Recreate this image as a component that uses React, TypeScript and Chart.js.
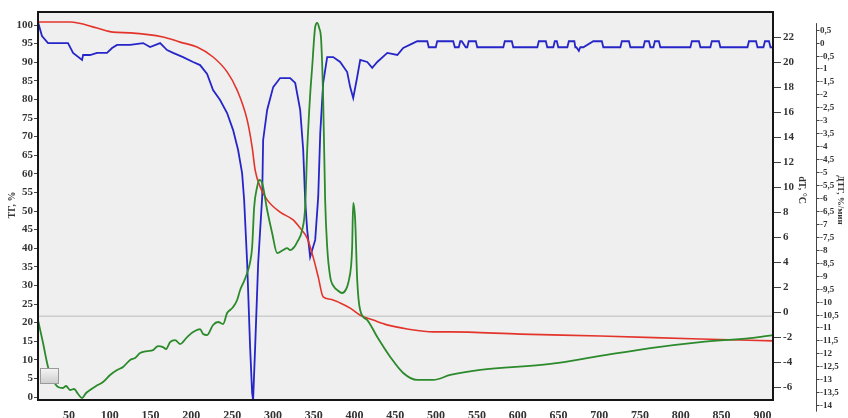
import React, { useEffect, useRef } from "react";
import { Chart, registerables } from "chart.js";
Chart.register(...registerables);

const xTicks = [50, 100, 150, 200, 250, 300, 350, 400, 450, 500, 550, 600, 650, 700, 750, 800, 850, 900];
const tgTicks = [0, 5, 10, 15, 20, 25, 30, 35, 40, 45, 50, 55, 60, 65, 70, 75, 80, 85, 90, 95, 100];
const dtTicks = [-6, -4, -2, 0, 2, 4, 6, 8, 10, 12, 14, 16, 18, 20, 22];
const dtgTicks = [0.5, 0, -0.5, -1, -1.5, -2, -2.5, -3, -3.5, -4, -4.5, -5, -5.5, -6, -6.5, -7, -7.5, -8, -8.5, -9, -9.5, -10, -10.5, -11, -11.5, -12, -12.5, -13, -13.5, -14];

const tgTitle = "ТГ, %";
const dtTitle = "dT, °C";
const dtgTitle = "ДТГ, %/мин";
const refLineTG = 21.7;

// TG (red)
const tgTemp = [12, 51.3, 84.4, 104, 124.9, 165.3, 186.2, 207, 226.6, 243.8, 256.1, 268.4, 274.5, 278.2, 284.3, 292.9, 308.8, 324.8, 333.4, 342, 349.3, 355.5, 361.6, 370.2, 382.4, 394.7, 407, 423, 440, 464.6, 496.5, 517.4, 603.2, 701.3, 824, 913];
const tgValues = [100.8, 100.8, 99.2, 98.1, 97.9, 96.8, 95.4, 94.1, 91.4, 87.4, 82.5, 74.5, 67.2, 61.0, 56.5, 53.0, 49.7, 47.6, 45.4, 42.7, 37.6, 32.3, 26.9, 26.3, 25.3, 23.9, 22.0, 20.7, 19.4, 18.3, 17.5, 17.5, 16.9, 16.4, 15.6, 15.1];

// dT (green)
const dtTemp = [12, 18.2, 24.3, 30.4, 36.6, 42.7, 46.4, 51.3, 56.2, 61.1, 66, 70.9, 75.8, 83.2, 91.7, 100.4, 108.9, 116.3, 124.9, 131, 137.1, 145.7, 153, 159.2, 165.3, 169, 173.9, 180.1, 186.2, 194.8, 202.1, 210.7, 214.4, 219.3, 226.6, 232.8, 238.9, 243.8, 247.5, 251.2, 256.1, 259.8, 264.7, 268.4, 272.1, 274.5, 277, 280.6, 283.1, 286.8, 292.9, 299, 305.2, 312.5, 317.4, 321.1, 326, 329.7, 335.8, 339.5, 342, 345.6, 348.1, 351.8, 354.2, 356.7, 359.1, 361.6, 364, 366.5, 370.2, 375.1, 378.8, 384.9, 389.8, 392.3, 395.9, 397.1, 398.4, 400.8, 403.3, 406.9, 415.6, 427.9, 443.8, 459.7, 476.9, 496.5, 517.4, 554.2, 640, 701.3, 762.7, 824, 885.3, 913];
const dtValues = [-0.61, -2.45, -4.36, -5.4, -5.96, -6.04, -5.88, -6.2, -6.12, -6.52, -6.84, -6.44, -6.2, -5.88, -5.56, -5.0, -4.6, -4.36, -3.8, -3.64, -3.25, -3.09, -3.01, -2.69, -2.77, -2.93, -2.37, -2.21, -2.53, -1.97, -1.57, -1.33, -1.73, -1.81, -1.01, -0.77, -0.93, -0.05, 0.19, 0.43, 0.99, 1.79, 2.51, 3.15, 4.03, 5.22, 8.42, 10.02, 10.58, 10.34, 8.18, 6.34, 4.74, 4.98, 5.14, 4.98, 5.22, 5.62, 6.58, 8.42, 12.97, 17.37, 19.61, 22.8, 23.12, 22.72, 21.76, 16.97, 8.98, 5.22, 2.83, 2.03, 1.79, 1.55, 1.87, 2.35, 3.79, 5.22, 8.74, 7.38, 2.59, 0.19, -0.61, -1.97, -3.56, -4.84, -5.4, -5.4, -5.0, -4.6, -4.12, -3.48, -2.85, -2.37, -2.05, -1.81];

// DTG (blue)
const dtgTemp = [12, 16.9, 24.3, 48.8, 55, 66, 67.3, 75.8, 84.4, 96.6, 102.8, 108.9, 124.9, 140.8, 149.4, 161.7, 170.2, 177.6, 189.8, 202.1, 210.7, 219.3, 226.6, 235.2, 243.8, 251.2, 257.3, 262.2, 264.7, 268.4, 272, 274.5, 275.7, 278.2, 281.9, 286.8, 288, 292.9, 300.3, 308.8, 321.1, 327.3, 333.4, 337.1, 339.5, 342, 345.6, 351.8, 355.5, 358, 361.6, 366.5, 373.9, 382.4, 391, 394.7, 398.4, 403.3, 407, 415.6, 421.7, 427.9, 440.2, 452.5, 459.7, 472,
  476.9, 489.2, 491, 499.6, 501.4, 521, 523, 527.8, 529.6, 531.4, 536.4, 538.2, 540, 548.7, 550.5, 582.4, 584.2, 592.8, 594.6, 624.1, 625.9, 634.5, 636.3, 643.7, 645.5, 648, 649.8, 660.9, 662.7, 669.5, 670.7, 671.9, 675, 676.8, 680.5, 692.7, 694.5, 703.2, 705, 725.9, 727.7, 736.4, 738.2, 754.1, 755.9, 760.9, 762.7, 766.4, 768.2, 773.1, 774.9, 811.7, 813.5, 822.2, 824, 836.2, 838, 846.7, 848.5, 881.7, 883.5, 892.2, 894, 901.3, 903.1, 908.1, 909.9, 913];
const dtgValues = [0.79, 0.25, -0.02, -0.02, -0.4, -0.67, -0.48, -0.48, -0.4, -0.4, -0.21, -0.09, -0.09, -0.02, -0.17, -0.02, -0.29, -0.4, -0.56, -0.75, -0.87, -1.21, -1.83, -2.22, -2.72, -3.38, -4.15, -5.04, -6.08, -8.51, -11.75, -13.53, -13.8, -11.75, -8.51, -5.96, -3.76, -2.6, -1.72, -1.37, -1.37, -1.56, -2.6, -4.15, -6.08, -7.24, -8.28, -7.62, -5.96, -3.49, -1.56, -0.56, -0.56, -0.75, -1.14, -1.72, -2.14, -1.33, -0.67, -0.75, -0.98, -0.75, -0.4, -0.48, -0.21, -0.02,
  0.05, 0.05, -0.18, -0.18, 0.05, 0.05, -0.18, -0.18, 0.05, 0.05, -0.18, -0.18, 0.05, 0.05, -0.18, -0.18, 0.05, 0.05, -0.18, -0.18, 0.05, 0.05, -0.18, -0.18, 0.05, 0.05, -0.18, -0.18, 0.05, 0.05, -0.18, -0.18, -0.32, -0.18, -0.18, 0.05, 0.05, 0.05, -0.18, -0.18, 0.05, 0.05, -0.18, -0.18, 0.05, 0.05, -0.18, -0.18, 0.05, 0.05, -0.18, -0.18, 0.05, 0.05, -0.18, -0.18, 0.05, 0.05, -0.18, -0.18, 0.05, 0.05, -0.18, -0.18, 0.05, 0.05, -0.18, -0.18, 0.05, 0.05];

const toPoints = (xs: number[], ys: number[]) => xs.map((x, i) => ({ x, y: ys[i] }));
const fmtComma = (v: number) => String(v).replace(".", ",");

const SERIF = '"Liberation Serif", "Times New Roman", serif';

const decorPlugin = {
  id: "decor",
  beforeDraw(chart: any) {
    const { ctx, chartArea: a } = chart;
    ctx.save();
    ctx.fillStyle = "#ffffff";
    ctx.fillRect(0, 0, chart.width, chart.height);
    ctx.fillStyle = "#efefef";
    ctx.fillRect(a.left, a.top, a.right - a.left, a.bottom - a.top);
    ctx.restore();
  },
  beforeDatasetsDraw(chart: any) {
    const { ctx, chartArea: a } = chart;
    const y = chart.scales.yTG.getPixelForValue(refLineTG);
    ctx.save();
    ctx.strokeStyle = "#cdcdcd";
    ctx.lineWidth = 1.5;
    ctx.beginPath();
    ctx.moveTo(a.left, y);
    ctx.lineTo(a.right, y);
    ctx.stroke();
    ctx.restore();
  },
  afterDraw(chart: any) {
    const { ctx, chartArea: a } = chart;
    ctx.save();
    // frame
    ctx.strokeStyle = "#151515";
    ctx.lineWidth = 2;
    ctx.strokeRect(a.left, a.top, a.right - a.left, a.bottom - a.top);

    // small gray box
    const bx = a.left + 2, by = a.bottom - 32, bw = 18, bh = 15;
    const g = ctx.createLinearGradient(0, by, 0, by + bh);
    g.addColorStop(0, "#f6f6f6");
    g.addColorStop(1, "#cfcfcf");
    ctx.fillStyle = g;
    ctx.fillRect(bx, by, bw, bh);
    ctx.strokeStyle = "#9a9a9a";
    ctx.lineWidth = 1;
    ctx.strokeRect(bx + 0.5, by + 0.5, bw, bh);

    // DTG axis
    const s = chart.scales.yDTG;
    const ax = a.right + 43.5;
    ctx.strokeStyle = "#444";
    ctx.lineWidth = 1;
    ctx.beginPath();
    ctx.moveTo(ax, s.getPixelForValue(0.75));
    ctx.lineTo(ax, s.getPixelForValue(-14.25));
    ctx.stroke();
    ctx.font = `bold 9px ${SERIF}`;
    ctx.fillStyle = "#333";
    ctx.textAlign = "left";
    ctx.textBaseline = "middle";
    for (const v of dtgTicks) {
      const y = Math.round(s.getPixelForValue(v)) + 0.5;
      ctx.beginPath();
      ctx.moveTo(ax, y);
      ctx.lineTo(ax + 3, y);
      ctx.stroke();
      ctx.fillText(fmtComma(v), ax + 3.5, y);
    }

    // titles
    ctx.fillStyle = "#333";
    ctx.textAlign = "center";
    ctx.textBaseline = "middle";
    ctx.font = `bold 10px ${SERIF}`;
    ctx.save();
    ctx.translate(12, 205);
    ctx.rotate(-Math.PI / 2);
    ctx.fillText(tgTitle, 0, 0);
    ctx.restore();

    ctx.save();
    ctx.translate(802, 190);
    ctx.rotate(Math.PI / 2);
    ctx.fillText(dtTitle, 0, 0);
    ctx.restore();

    ctx.font = `bold 9px ${SERIF}`;
    ctx.save();
    ctx.translate(840, 200);
    ctx.rotate(Math.PI / 2);
    ctx.fillText(dtgTitle, 0, 0);
    ctx.restore();

    ctx.restore();
  },
};

export default function App() {
  const ref = useRef<HTMLCanvasElement>(null);
  useEffect(() => {
    if (!ref.current) return;
    const tickFont = (size: number) => ({ family: SERIF, size, weight: "bold" as const });
    const chart = new Chart(ref.current, {
      type: "line",
      data: {
        datasets: [
          {
            label: "ДТГ",
            data: toPoints(dtgTemp, dtgValues),
            yAxisID: "yDTG",
            borderColor: "#2626c8",
            borderWidth: 1.8,
            pointRadius: 0,
            tension: 0,
            order: 3,
          },
          {
            label: "ТГ",
            data: toPoints(tgTemp, tgValues),
            yAxisID: "yTG",
            borderColor: "#e3342b",
            borderWidth: 1.6,
            pointRadius: 0,
            cubicInterpolationMode: "monotone",
            order: 2,
          },
          {
            label: "dT",
            data: toPoints(dtTemp, dtValues),
            yAxisID: "yDT",
            borderColor: "#2b8a2b",
            borderWidth: 1.8,
            pointRadius: 0,
            cubicInterpolationMode: "monotone",
            order: 1,
          },
        ],
      },
      options: {
        responsive: false,
        animation: false,
        devicePixelRatio: 1,
        layout: { padding: { top: 12, left: 0, right: 0, bottom: 0 } },
        plugins: { legend: { display: false }, tooltip: { enabled: false } },
        scales: {
          x: {
            type: "linear",
            min: 12,
            max: 913,
            afterBuildTicks: (s: any) => { s.ticks = xTicks.map((value) => ({ value })); },
            afterFit: (s: any) => { s.height = 18; },
            grid: { display: false },
            border: { display: false },
            ticks: { font: tickFont(12), color: "#333", padding: 1, maxRotation: 0, autoSkip: false },
          },
          yTG: {
            type: "linear",
            position: "left",
            min: -0.8,
            max: 103.5,
            afterBuildTicks: (s: any) => { s.ticks = tgTicks.map((value) => ({ value })); },
            afterFit: (s: any) => { s.width = 38; },
            grid: { drawOnChartArea: false, drawTicks: true, tickLength: 4, color: "#444" },
            border: { display: false },
            ticks: { font: tickFont(11), color: "#333", padding: 1, autoSkip: false },
          },
          yDT: {
            type: "linear",
            position: "right",
            min: -7,
            max: 24,
            afterBuildTicks: (s: any) => { s.ticks = dtTicks.map((value) => ({ value })); },
            afterFit: (s: any) => { s.width = 75; },
            grid: { drawOnChartArea: false, drawTicks: true, tickLength: 8, color: "#444" },
            border: { display: false },
            ticks: { font: tickFont(11), color: "#333", padding: 2, autoSkip: false },
          },
          yDTG: {
            type: "linear",
            position: "right",
            display: false,
            min: -13.8,
            max: 1.18,
          },
        },
      },
      plugins: [decorPlugin],
    });
    return () => chart.destroy();
  }, []);
  return (
    <div style={{ position: "fixed", left: 0, top: 0, width: 848, height: 418, background: "#fff" }}>
      <canvas ref={ref} width={848} height={418} />
    </div>
  );
}
